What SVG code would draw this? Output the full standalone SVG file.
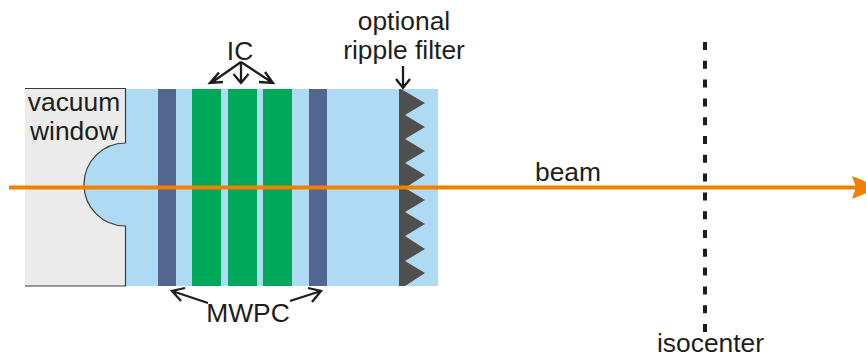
<svg xmlns="http://www.w3.org/2000/svg" width="866" height="358" viewBox="0 0 866 358">
<style>
text{font-family:"Liberation Sans",Arial,sans-serif;font-size:26.4px;fill:#1d1d1b;text-anchor:middle}
.lead{fill:none;stroke:#1d1d1b;stroke-width:2.300}
.mw{fill:#536690}
.ic{fill:#00a85a}
</style>
<g id="chamber"><rect x="80" y="89" width="358" height="197" fill="#aedbf3"/></g>
<g id="vacuum-window">
<path d="M25 89H125V143A41.500 41.500 0 0 0 125 226V286H25Z" fill="#ebebeb"/>
<path d="M25 88.500H125.500V143A41.500 41.500 0 0 0 125.500 226V286H25" fill="none" stroke="#3c3c3b" stroke-width="1.200"/>
<text x="74" y="111">vacuum</text>
<text x="74" y="140">window</text>
</g>
<g id="mwpc">
<rect class="mw" x="158" y="89" width="18" height="197"/>
<rect class="mw" x="309" y="89" width="18" height="197"/>
<text x="248" y="322">MWPC</text>
</g>
<g id="ic">
<rect class="ic" x="192" y="89" width="29" height="197"/>
<rect class="ic" x="228" y="89" width="29" height="197"/>
<rect class="ic" x="263" y="89" width="29" height="197"/>
<text x="240" y="60">IC</text>
</g>
<g id="ripple-filter">
<path d="M399 89H401L425 103L405 115L425 127L405 139L425 151L405 163L425 175L405 188L425 200L405 212L425 224L405 236L425 249L405 261L425 273L405 286H399Z" fill="#4f4f4e"/>
<text x="404" y="30">optional</text>
<text x="404" y="59">ripple filter</text>
</g>
<g id="isocenter">
<text x="710.500" y="352.300">isocenter</text>
</g>
<g id="connectors">
<path class="lead" d="M241 62L211 83M219 72.500L210 83L223 82"/>
<path class="lead" d="M241 62V83M233.500 74L241 83L248.500 74"/>
<path class="lead" d="M241 62L273 83M259 82L273 83L265 72"/>
<path class="lead" d="M208 303L172 291M181 301L172 291L185 288"/>
<path class="lead" d="M290 301L321 291M308 288L321 291L312 302"/>
<path class="lead" d="M403 66V88M396 79L403 88L410 79"/>
<line x1="705" y1="42" x2="705" y2="332" stroke="#1d1d1b" stroke-width="4" stroke-dasharray="8 10.800"/>
<line x1="9" y1="187.500" x2="858" y2="187.500" stroke="#f18000" stroke-width="4"/>
<path d="M852 176L880 187.500L852 199L856 187.500Z" fill="#f18000"/>
<text x="568" y="181">beam</text>
</g>
</svg>
